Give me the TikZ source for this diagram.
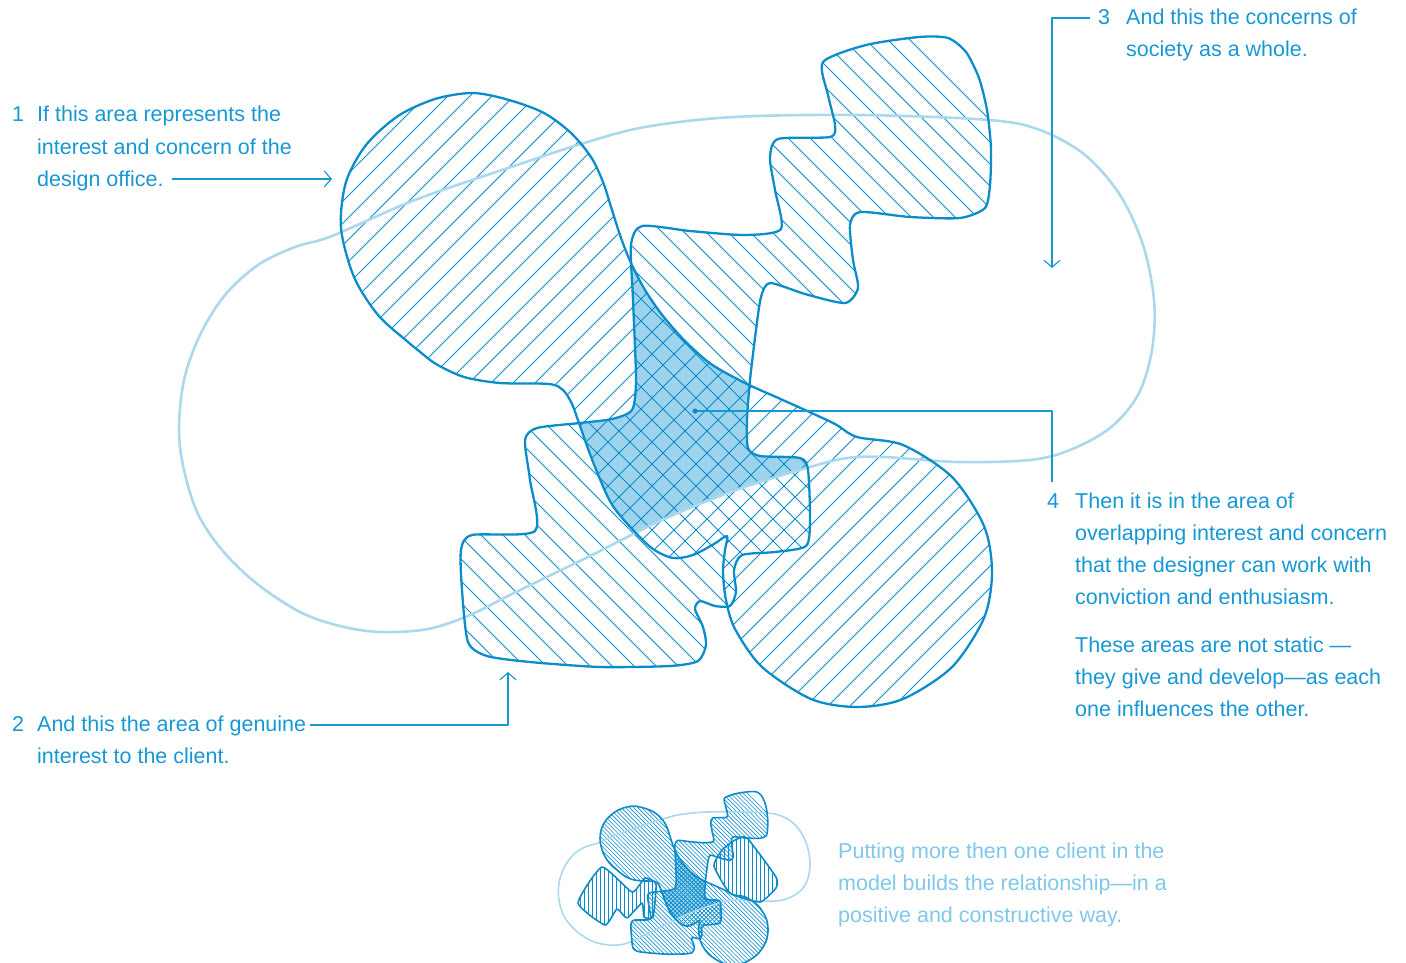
\documentclass[tikz,border=0pt]{standalone}
\usepackage{fontspec}
\setmainfont{Liberation Sans}
\usetikzlibrary{arrows.meta}
\definecolor{lineblue}{RGB}{12,141,203}
\definecolor{fillblue}{RGB}{157,211,237}
\definecolor{socblue}{RGB}{170,217,238}
\definecolor{textblue}{RGB}{22,152,213}
\definecolor{minitext}{RGB}{128,199,234}
\def\pathD{plot[smooth cycle, tension=0.5] coordinates {(473,93) (509,100) (544,113) (571,133) (591,157) (603,182) (612,210) (621,238) (631,263) (645,290) (663,316) (685,341) (711,364) (745,383) (776,397) (805,410) (835,424) (857,437) (903,445) (952,477) (984,526) (992,572) (984,618) (952,667) (903,699) (857,707) (811,699) (762,667) (735,629) (726,600) (723,572) (725,550) (727,536) (714,544) (693,555) (673,558) (653,549) (633,530) (611,503) (593,462) (580,426) (572,404) (563,390) (549,384) (500,383) (464,377) (436,364) (419,351) (408,342) (378,315) (354,277) (341,228) (346,182) (366,145) (398,116) (435,99)}}
\def\pathC{plot[smooth cycle, tension=0.42] coordinates {(823,62) (866,45) (919,37) (948,38) (966,52) (979,78) (987,110) (991,148) (990,185) (985,208) (960,218) (910,217) (860,212) (850,225) (853,260) (858,288) (845,303) (805,294) (770,283) (761,297) (756,330) (750,380) (747,420) (748,448) (760,456) (800,458) (808,470) (810,520) (806,546) (775,552) (742,555) (734,570) (736,592) (730,606) (715,606) (700,601) (695,609) (703,627) (706,645) (698,661) (670,666) (600,667) (530,662) (487,656) (468,642) (462,590) (461,550) (472,535) (535,531) (530,480) (525,440) (537,428) (580,423) (612,419) (632,410) (636,380) (633,300) (631,245) (642,226) (690,231) (745,235) (781,229) (775,190) (770,158) (778,139) (830,137) (835,125) (828,95)}}
\def\pathS{plot[smooth cycle, tension=0.55] coordinates {(179,430) (184,380) (200,335) (225,295) (258,265) (295,247) (332,236) (415,200) (511,167) (581,144) (645,127) (734,117) (861,115) (989,120) (1040,130) (1085,155) (1120,195) (1143,245) (1154,300) (1152,350) (1138,395) (1110,428) (1070,450) (1030,460) (958,462) (884,457) (847,458) (810,467) (736,490) (662,520) (588,557) (514,593) (470,615) (428,629) (380,632) (340,626) (300,612) (256,583) (222,550) (198,514) (184,470)}}
\def\pathVa{plot[smooth cycle, tension=0.3] coordinates {(578,903) (602,867) (632,892) (645,878) (656,884) (653,917) (644,917) (642,903) (627,918) (617,909) (605,925)}}
\def\pathVb{plot[smooth cycle, tension=0.3] coordinates {(735,840) (747,838) (776,877) (776,888) (760,902) (730,893) (714,866) (722,850)}}
\tikzset{
  outl/.style={draw=lineblue, line width=2.3pt},
  hatchln/.style={lineblue, line width=1.0pt},
  soc/.style={draw=socblue, line width=2.6pt},
  leader/.style={draw=textblue, line width=1.15pt},
  arrowtip/.style={-{Straight Barb[length=7pt,width=16pt]}},
  txt/.style={text=textblue, font=\fontsize{21.5pt}{32pt}\selectfont, inner sep=0pt, anchor=base west},
  minioutl/.style={draw=lineblue, line width=1.6pt},
  minihatch/.style={lineblue, line width=0.6pt},
  minisoc/.style={draw=socblue, line width=1.6pt},
}
\begin{document}
\begin{tikzpicture}[x=1pt, y=-1pt, line join=round]
\useasboundingbox (0,0) rectangle (1406,963);
% ---------- main diagram ----------
\begin{scope}
  \clip \pathD; \clip \pathC; \clip \pathS;
  \fill[fillblue] (0,0) rectangle (1406,963);
\end{scope}
\begin{scope}
  \clip \pathD;
  \foreach \c in {500,522,...,1660} \draw[hatchln] (\c,0) -- ++(-1000,1000);
\end{scope}
\begin{scope}
  \clip \pathC;
  \foreach \c in {-230,-208,...,880} \draw[hatchln] (\c,0) -- ++(1000,1000);
\end{scope}
\draw[soc] \pathS;
\draw[outl] \pathD;
\draw[outl] \pathC;
% ---------- mini diagram ----------
\begin{scope}[shift={(512.1,782.1)}, scale=0.258]
  \begin{scope}
    \clip \pathD; \clip \pathC; \clip \pathS;
    \fill[fillblue] (0,0) rectangle (1406,963);
  \end{scope}
  \begin{scope}
    \clip \pathD;
    \foreach \c in {20,36,...,500} \draw[minihatch] (\c,0) -- ++(1000,1000);
  \end{scope}
  \begin{scope}
    \clip \pathC;
    \foreach \c in {-236,-220,...,870} \draw[minihatch] (\c,0) -- ++(1000,1000);
  \end{scope}
  \begin{scope}
    \clip \pathD; \clip \pathC;
    \foreach \c in {780,796,...,1480} \draw[minihatch] (\c,0) -- ++(-1000,1000);
  \end{scope}
  \draw[minisoc] \pathS;
  \draw[minioutl] \pathD;
  \draw[minioutl] \pathC;
\end{scope}
\begin{scope}
  \clip \pathVa;
  \foreach \c in {576,580,...,660} \draw[minihatch] (\c,860) -- (\c,930);
\end{scope}
\begin{scope}
  \clip \pathVb;
  \foreach \c in {712,716,...,780} \draw[minihatch] (\c,835) -- (\c,905);
\end{scope}
\draw[minioutl] \pathVa;
\draw[minioutl] \pathVb;
% ---------- texts ----------
\node[txt] (n1) at (12,122) {1};
\node[txt] (t1a) at (37,122) {If this area represents the};
\node[txt] (t1b) at (37,154) {interest and concern of the};
\node[txt] (t1c) at (37,186) {design office.};
\node[txt] (n2) at (12,731) {2};
\node[txt] (t2a) at (37,731) {And this the area of genuine};
\node[txt] (t2b) at (37,763) {interest to the client.};
\node[txt] (n3) at (1098,25) {3};
\node[txt] (t3a) at (1126,25) {And this the concerns of};
\node[txt] (t3b) at (1126,57) {society as a whole.};
\node[txt] (n4) at (1047,508) {4};
\node[txt] (t4a) at (1075,508) {Then it is in the area of};
\node[txt] (t4b) at (1075,540) {overlapping interest and concern};
\node[txt] (t4c) at (1075,572) {that the designer can work with};
\node[txt] (t4d) at (1075,604) {conviction and enthusiasm.};
\node[txt] (t4e) at (1075,652) {These areas are not static —};
\node[txt] (t4f) at (1075,684) {they give and develop—as each};
\node[txt] (t4g) at (1075,716) {one influences the other.};
\node[txt, text=minitext] (m1) at (838,858) {Putting more then one client in the};
\node[txt, text=minitext] (m2) at (838,890) {model builds the relationship—in a};
\node[txt, text=minitext] (m3) at (838,922) {positive and constructive way.};
% ---------- leaders ----------
\coordinate (a1) at (332,179);
\coordinate (a2) at (508,672);
\coordinate (a3) at (1052,268);
\coordinate (dot) at (695,411);
\coordinate (e4) at (1052,482);
\draw[leader, arrowtip] ([shift={(8,-7)}]t1c.base east) -- (a1);
\draw[leader, arrowtip] ([shift={(4,-6)}]t2a.base east) -| (a2);
\draw[leader, arrowtip] ([shift={(-8,-7)}]n3.base west) -| (a3);
\draw[leader] (dot) -| (e4);
\fill[lineblue] (dot) circle[radius=2.6pt];
\end{tikzpicture}
\end{document}
